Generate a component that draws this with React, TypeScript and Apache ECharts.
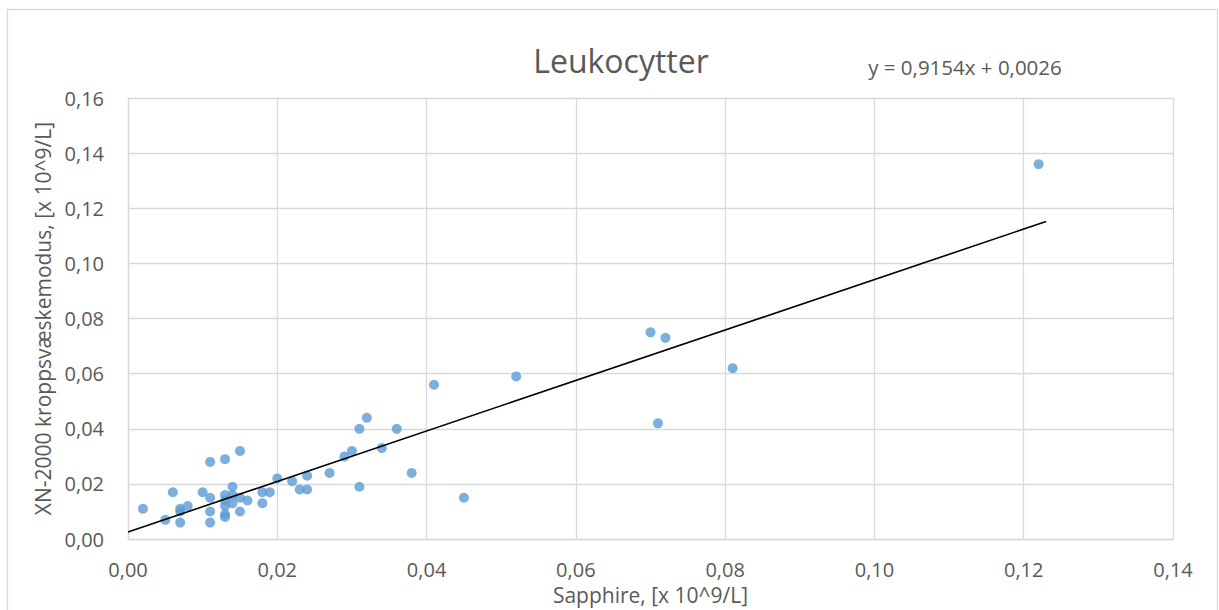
import React, { useEffect, useRef } from "react";
import * as echarts from "echarts";

const titleText = "Leukocytter";
const equationText = "y = 0,9154x + 0,0026";
const xAxisName = "Sapphire, [x 10^9/L]";
const yAxisName = "XN-2000 kroppsvæskemodus, [x 10^9/L]";

const sapphire = [
  0.002, 0.005, 0.006, 0.007, 0.007, 0.007, 0.008, 0.010, 0.011, 0.011,
  0.011, 0.011, 0.013, 0.013, 0.013, 0.013, 0.013, 0.013, 0.014, 0.014,
  0.014, 0.015, 0.015, 0.015, 0.016, 0.018, 0.018, 0.019, 0.020, 0.022,
  0.023, 0.024, 0.024, 0.027, 0.029, 0.030, 0.031, 0.031, 0.032, 0.034,
  0.036, 0.038, 0.041, 0.045, 0.052, 0.070, 0.071, 0.072, 0.081, 0.122,
];
const xn2000 = [
  0.011, 0.007, 0.017, 0.011, 0.010, 0.006, 0.012, 0.017, 0.028, 0.015,
  0.010, 0.006, 0.029, 0.016, 0.014, 0.012, 0.009, 0.008, 0.019, 0.016,
  0.013, 0.032, 0.015, 0.010, 0.014, 0.017, 0.013, 0.017, 0.022, 0.021,
  0.018, 0.023, 0.018, 0.024, 0.030, 0.032, 0.040, 0.019, 0.044, 0.033,
  0.040, 0.024, 0.056, 0.015, 0.059, 0.075, 0.042, 0.073, 0.062, 0.136,
];

const trendX = [0, 0.123];
const trendY = [0.0026, 0.1152];

const fmt = (v: number) => v.toFixed(2).replace(".", ",");

export default function App() {
  const ref = useRef<HTMLDivElement>(null);
  useEffect(() => {
    if (!ref.current) return;
    const chart = echarts.init(ref.current, undefined, { renderer: "svg" });
    const font = "'Open Sans', sans-serif";
    const txt = "#595959";
    const gridColor = "#d9d9d9";
    chart.setOption({
      animation: false,
      backgroundColor: "#ffffff",
      textStyle: { fontFamily: font },
      grid: { left: 128, width: 1045, top: 98, height: 443.5 },
      graphic: [
        {
          type: "rect",
          shape: { x: 7.5, y: 9.5, width: 1210, height: 620 },
          style: { fill: "none", stroke: gridColor, lineWidth: 1.3 },
          silent: true,
        },
        {
          type: "text",
          x: 621,
          y: 60,
          style: {
            text: titleText,
            fontSize: 32,
            fontFamily: font,
            fill: txt,
            align: "center",
            verticalAlign: "middle",
          },
        },
        {
          type: "text",
          x: 965,
          y: 67,
          style: {
            text: equationText,
            fontSize: 20.5,
            fontFamily: font,
            fill: txt,
            align: "center",
            verticalAlign: "middle",
          },
        },
      ],
      xAxis: {
        type: "value",
        min: 0,
        max: 0.14,
        interval: 0.02,
        name: xAxisName,
        nameLocation: "middle",
        nameGap: 42,
        nameTextStyle: { color: txt, fontSize: 21, fontFamily: font },
        axisLine: { show: true, lineStyle: { color: gridColor, width: 1.3 } },
        axisTick: { show: false },
        axisLabel: {
          color: txt,
          fontSize: 20,
          fontFamily: font,
          margin: 20,
          formatter: fmt,
        },
        splitLine: { show: true, lineStyle: { color: gridColor, width: 1.3 } },
      },
      yAxis: {
        type: "value",
        min: 0,
        max: 0.16,
        interval: 0.02,
        name: yAxisName,
        nameLocation: "middle",
        nameGap: 74,
        nameTextStyle: { color: txt, fontSize: 21, fontFamily: font },
        axisLine: { show: true, lineStyle: { color: gridColor, width: 1.3 } },
        axisTick: { show: false },
        axisLabel: {
          color: txt,
          fontSize: 20,
          fontFamily: font,
          margin: 24,
          formatter: fmt,
        },
        splitLine: { show: true, lineStyle: { color: gridColor, width: 1.3 } },
      },
      series: [
        {
          type: "line",
          data: trendX.map((x, i) => [x, trendY[i]]),
          symbol: "none",
          lineStyle: { color: "#000000", width: 1.6 },
          silent: true,
          z: 3,
        },
        {
          type: "scatter",
          data: sapphire.map((x, i) => [x, xn2000[i]]),
          symbol: "circle",
          symbolSize: 10,
          itemStyle: { color: "#5b9bd5" },
          z: 2,
        },
      ],
    });
    return () => chart.dispose();
  }, []);
  return (
    <div
      ref={ref}
      style={{ position: "absolute", left: 0, top: 0, width: 1219, height: 610 }}
    />
  );
}
